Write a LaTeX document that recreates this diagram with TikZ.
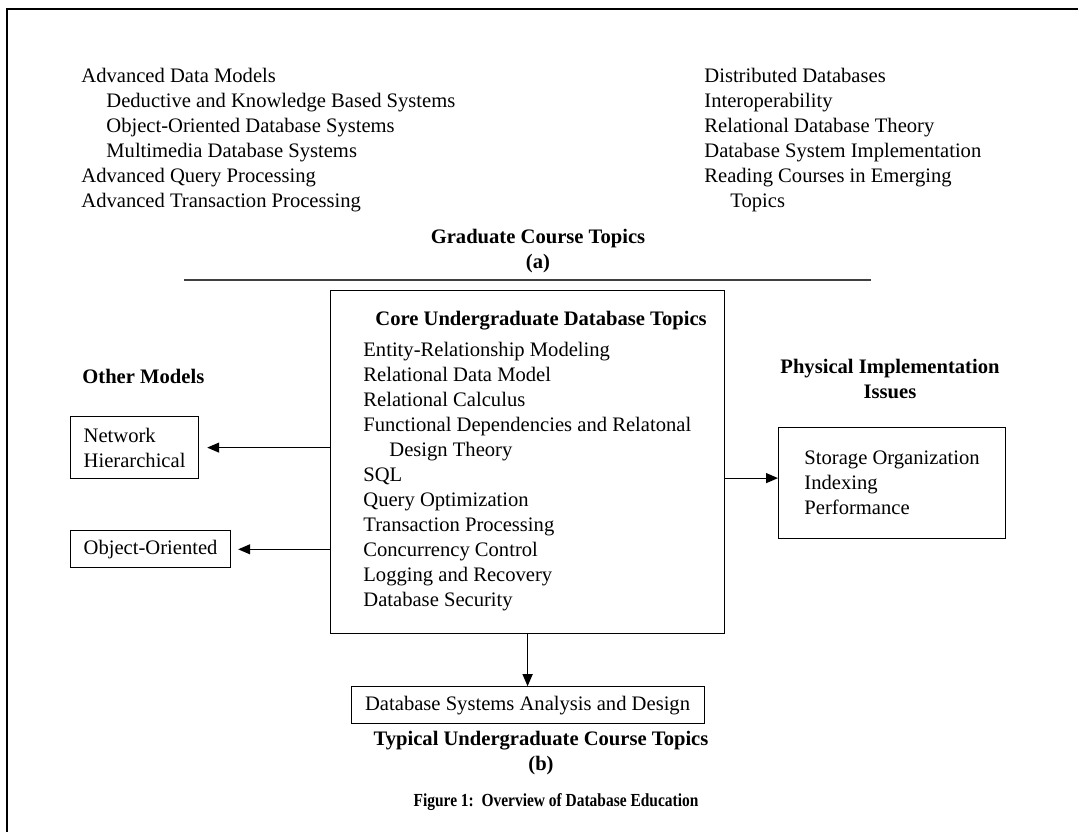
\documentclass[tikz,border=0pt]{standalone}
\usepackage{fontspec}
\setmainfont{Liberation Serif}
\usetikzlibrary{arrows.meta,positioning}
\newcommand{\txtsize}{\fontsize{10.3}{12.5}\selectfont}
\tikzset{
  pbox/.style={draw,rectangle,line width=0.6pt,inner sep=0pt,align=left,font=\txtsize},
  plain/.style={inner sep=0pt,align=left,anchor=north west,font=\txtsize},
  hdr/.style={inner sep=0pt,align=center,font=\txtsize\bfseries},
  arr/.style={-{Triangle[length=6pt,width=5pt]},line width=0.6pt},
  rule/.style={line width=0.8pt,black!75}
}
\begin{document}
\begin{tikzpicture}[x=0.5pt,y=-0.5pt]
  \useasboundingbox (0,0) rectangle (1078,832);
  % page frame
  \draw[line width=0.7pt] (7,832) -- (7,9) -- (1078,9);

  % (a) graduate topics
  \node[plain] (gradl) at (81,68) {Advanced Data Models\\
    \hspace*{12.5pt}Deductive and Knowledge Based Systems\\
    \hspace*{12.5pt}Object-Oriented Database Systems\\
    \hspace*{12.5pt}Multimedia Database Systems\\
    Advanced Query Processing\\
    Advanced Transaction Processing};
  \node[plain] (gradr) at (704,68) {Distributed Databases\\
    Interoperability\\
    Relational Database Theory\\
    Database System Implementation\\
    Reading Courses in Emerging\\
    \hspace*{13pt}Topics};
  \node[hdr,anchor=north] (gradh) at (538,229) {Graduate Course Topics\\(a)};
  \draw[rule] (184,280) -- (871,280);

  % (b) undergraduate topics
  \node[pbox,minimum width=197pt,minimum height=171.5pt,anchor=north west] (core) at (330,290) {};
  \node[plain] (coretxt) at (363,311) {\hspace*{6pt}\textbf{Core Undergraduate Database Topics}\\[3pt]
    Entity-Relationship Modeling\\
    Relational Data Model\\
    Relational Calculus\\
    Functional Dependencies and Relatonal\\
    \hspace*{13pt}Design Theory\\
    SQL\\
    Query Optimization\\
    Transaction Processing\\
    Concurrency Control\\
    Logging and Recovery\\
    Database Security};

  \node[hdr,anchor=base west] (otherh) at (82,383) {Other Models};
  \node[pbox,minimum width=64pt,minimum height=31pt,anchor=north west] (net) at (70,416) {Network\\Hierarchical};
  \node[pbox,minimum width=80pt,minimum height=18.5pt,below=25.5pt of net.south west,anchor=north west] (obj) {Object-Oriented};

  \node[hdr,anchor=north] (physh) at (890,359) {Physical Implementation\\Issues};
  \node[pbox,minimum width=113.5pt,minimum height=55.5pt,anchor=north west] (phys) at (778,427) {Storage Organization\\Indexing\\Performance};

  \node[pbox,minimum width=176.5pt,minimum height=18.5pt,below=26pt of core] (dsad) {Database Systems Analysis and Design};
  \node[hdr,anchor=north] (typh) at (541,731) {Typical Undergraduate Course Topics\\(b)};
  \node[anchor=base,inner sep=0pt,font=\fontsize{9.2}{11}\selectfont\bfseries] (capt) at (556,806) {\scalebox{0.84}[1]{Figure 1:\ \ Overview of Database Education}};

  \draw[arr,shorten >=4pt] (core.west |- net.east) -- (net.east);
  \draw[arr,shorten >=3.5pt] (core.west |- obj.east) -- (obj.east);
  \draw[arr] ([yshift=2.5pt]phys.west -| core.east) -- ([yshift=2.5pt]phys.west);
  \draw[arr] (core.south) -- (dsad.north);
\end{tikzpicture}
\end{document}
